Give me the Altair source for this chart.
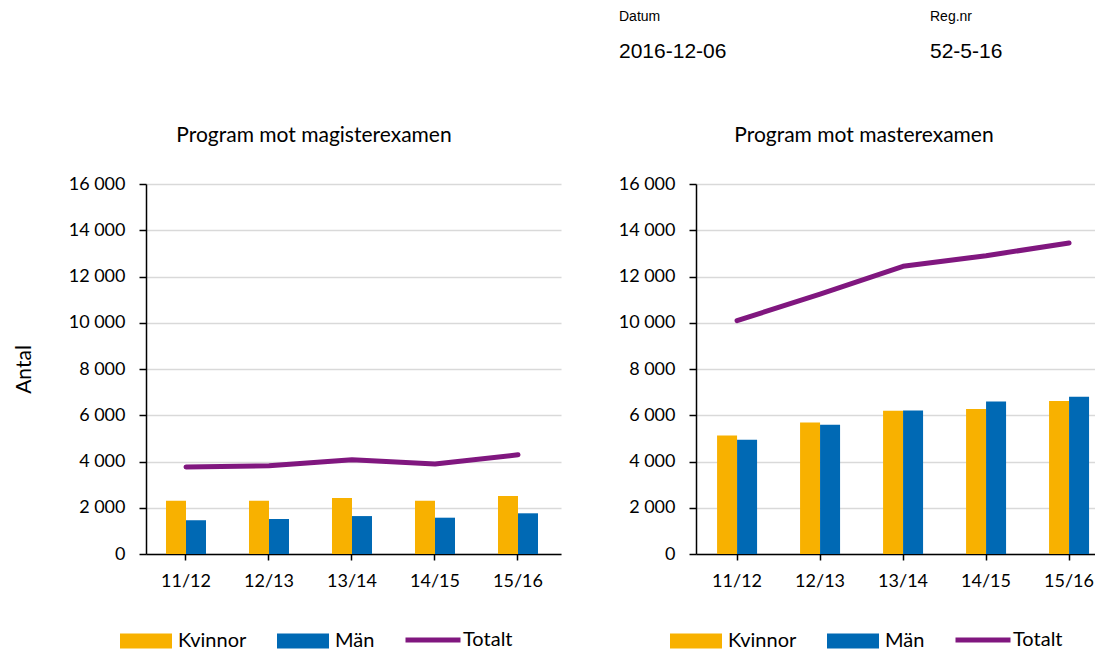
import altair as alt
import pandas as pd

years = ["11/12", "12/13", "13/14", "14/15", "15/16"]
genders = ["Kvinnor", "Män"]
series_total = ["Totalt"]

mag_kvinnor = [2300, 2300, 2420, 2300, 2510]
mag_man = [1460, 1510, 1640, 1570, 1760]
mag_totalt = [3760, 3820, 4080, 3890, 4290]

mas_kvinnor = [5120, 5690, 6200, 6270, 6620]
mas_man = [4940, 5590, 6210, 6590, 6800]
mas_totalt = [10090, 11240, 12440, 12900, 13450]

y_ticks = [0, 2000, 4000, 6000, 8000, 10000, 12000, 14000, 16000]

titles = ["Program mot magisterexamen", "Program mot masterexamen"]
y_title = "Antal"
header_labels = ["Datum", "Reg.nr"]
header_values = ["2016-12-06", "52-5-16"]

c_kv = "#F8B100"
c_man = "#0069B4"
c_tot = "#80177F"
FONT = "Lato"

bar_symbol = "M-1,-0.29H1V0.29H-1Z"


def text_layer(txt, x, y, size, font, align="left"):
    return alt.Chart(pd.DataFrame({"t": [txt]})).mark_text(
        align=align, baseline="middle", font=font, fontSize=size, color="black"
    ).encode(text="t:N", x=alt.value(x), y=alt.value(y))


def panel(title, kv, mn, tot, width, pad_outer, align, show_ytitle, header=False):
    bars_df = pd.DataFrame({
        "År": years * 2,
        "Kön": [genders[0]] * len(years) + [genders[1]] * len(years),
        "Antal": kv + mn,
    })
    line_df = pd.DataFrame({"År": years, "Serie": series_total * len(years), "Antal": tot})

    xscale = alt.Scale(domain=years, paddingInner=0.518, paddingOuter=pad_outer, align=align)
    yscale = alt.Scale(domain=[0, 16000], nice=False)
    xaxis = alt.Axis(title=None, labelAngle=0, labelFont=FONT, labelFontSize=18,
                     labelColor="black", labelPadding=12, tickSize=6, tickColor="black",
                     tickWidth=1.5, domainColor="black", domainWidth=1.5, grid=False)
    yaxis = alt.Axis(values=y_ticks,
                     labelExpr="datum.value >= 1000 ? format(datum.value/1000, 'd') + ' 000' : '0'",
                     title=y_title if show_ytitle else None,
                     titleFont=FONT, titleFontSize=21, titleFontWeight="normal", titleColor="black",
                     titlePadding=28,
                     labelFont=FONT, labelFontSize=18, labelColor="black", labelPadding=14,
                     tickSize=7, tickColor="black", tickWidth=1.5,
                     domainColor="black", domainWidth=1.5,
                     grid=True, gridColor="#D9D9D9", gridWidth=1.5,
                     minExtent=84, maxExtent=84)

    bars = alt.Chart(bars_df).mark_bar().encode(
        x=alt.X("År:N", sort=years, scale=xscale, axis=xaxis),
        xOffset=alt.XOffset("Kön:N", sort=genders, scale=alt.Scale(domain=genders, paddingInner=0)),
        y=alt.Y("Antal:Q", scale=yscale, axis=yaxis),
        color=alt.Color("Kön:N", scale=alt.Scale(domain=genders, range=[c_kv, c_man]),
                        legend=alt.Legend(title=None, orient="none", legendX=-26, legendY=431,
                                          direction="horizontal", symbolType=bar_symbol,
                                          symbolSize=2704, symbolStrokeWidth=0, symbolOpacity=1,
                                          labelFont=FONT, labelFontSize=20, labelColor="black",
                                          labelOffset=6, columnPadding=30, padding=0)),
    )
    line = alt.Chart(line_df).mark_line(strokeWidth=5, strokeCap="round", strokeJoin="round").encode(
        x=alt.X("År:N", sort=years),
        y=alt.Y("Antal:Q"),
        stroke=alt.Stroke("Serie:N", scale=alt.Scale(domain=series_total, range=[c_tot]),
                          legend=alt.Legend(title=None, orient="none", legendX=257, legendY=426,
                                            direction="horizontal", symbolType="stroke",
                                            symbolSize=3025, symbolStrokeWidth=5,
                                            labelFont=FONT, labelFontSize=20, labelColor="black",
                                            labelOffset=0, padding=0)),
    )
    layers = [bars, line, text_layer(title, 168, -48, 21, FONT, align="center")]
    if header:
        layers += [
            text_layer(header_labels[0], -77, -167, 14, "Liberation Sans"),
            text_layer(header_values[0], -77, -132, 21, "Liberation Sans"),
            text_layer(header_labels[1], 234, -167, 14, "Liberation Sans"),
            text_layer(header_values[1], 234, -132, 21, "Liberation Sans"),
        ]
    return alt.layer(*layers).properties(width=width, height=370)


left = panel(titles[0], mag_kvinnor, mag_man, mag_totalt, 415, 0.259, 0.465, True)
right = panel(titles[1], mas_kvinnor, mas_man, mas_totalt, 399, 0.1627, 0.78, False, header=True)

chart = alt.hconcat(left, right, spacing=51).resolve_scale(
    x="independent"
).resolve_legend(
    color="independent", stroke="independent"
).properties(
    padding={"left": 5, "top": 2, "right": 0, "bottom": 0},
    background="white",
).configure_view(stroke=None)

chart.save("out.html", embed_options={"renderer": "svg", "actions": False})
